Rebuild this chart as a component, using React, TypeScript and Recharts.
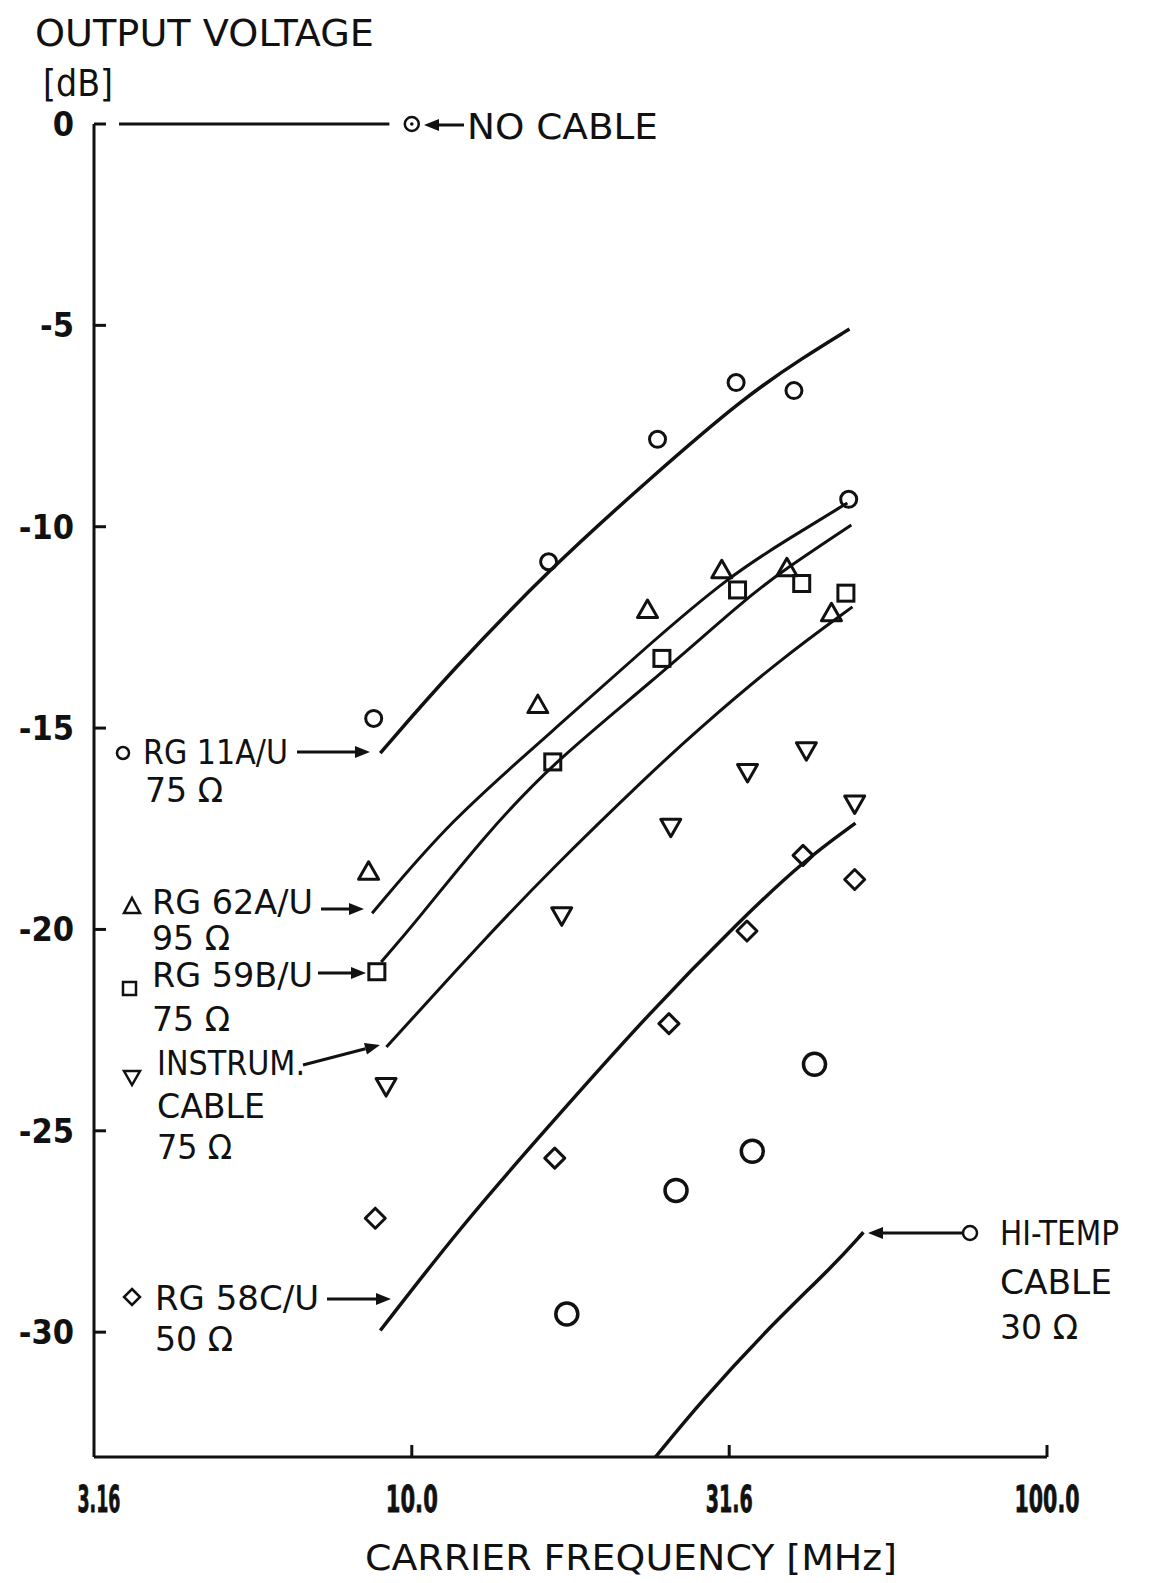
import React from "react";
import { ComposedChart, Line, Scatter, XAxis, YAxis } from "recharts";

const INK = "#111";
const FONT = "'DejaVu Sans Condensed', 'Liberation Sans Narrow', 'DejaVu Sans', sans-serif";
const LABEL_FONT = "'DejaVu Sans', 'Liberation Sans', sans-serif";

// axes
const X_TICKS = [3.16, 10, 31.6, 100];
const X_TICK_LABELS = ["3.16", "10.0", "31.6", "100.0"];
const Y_TICKS = [0, -5, -10, -15, -20, -25, -30];

// measured points (MHz, dB)
const rg11Freq = [8.71, 16.42, 24.37, 32.4, 39.96, 48.73];
const rg11Db = [-14.76, -10.87, -7.83, -6.42, -6.62, -9.32];
const rg62Freq = [8.55, 15.79, 23.5, 30.76, 38.95, 45.78];
const rg62Db = [-18.57, -14.43, -12.07, -11.08, -11.03, -12.15];
const rg59Freq = [8.81, 16.67, 24.76, 32.57, 41.1, 48.24];
const rg59Db = [-21.05, -15.84, -13.27, -11.57, -11.41, -11.65];
const instFreq = [9.11, 17.22, 25.57, 33.77, 41.8, 49.8];
const instDb = [-23.89, -19.65, -17.45, -16.09, -15.55, -16.87];
const rg58Freq = [8.76, 16.79, 25.4, 33.7, 41.3, 49.8];
const rg58Db = [-27.17, -25.68, -22.34, -20.04, -18.16, -18.76];
const hiTempFreq = [17.54, 26.06, 34.36, 43.05];
const hiTempDb = [-29.55, -26.48, -25.51, -23.35];
const noCableFreq = [10];
const noCableDb = [0];

// hand-drawn fit curves
const rg11CurveFreq = [8.92, 11.5, 16.52, 23.84, 33.39, 41.5, 48.87];
const rg11CurveDb = [-15.62, -13.61, -11.03, -8.77, -6.78, -5.78, -5.09];
const rg62CurveFreq = [8.66, 11.5, 16.52, 23.75, 31.62, 38.9, 48.5];
const rg62CurveDb = [-19.6, -17.29, -15.13, -12.89, -11.23, -10.33, -9.41];
const rg59CurveFreq = [8.95, 10.2, 12.96, 16.65, 23.75, 33.39, 37.91, 49.2];
const rg59CurveDb = [-20.81, -19.77, -17.71, -15.87, -13.88, -11.82, -11.15, -9.96];
const instCurveFreq = [9.12, 12.96, 16.52, 23.75, 28.16, 37.91, 49.4];
const instCurveDb = [-22.92, -20.27, -18.53, -16.12, -15.05, -13.31, -11.99];
const rg58CurveFreq = [8.92, 11.92, 16.03, 23.84, 32.91, 41.5, 49.94];
const rg58CurveDb = [-29.96, -27.4, -25.07, -22.01, -19.77, -18.28, -17.36];
const hiTempCurveFreq = [24.19, 28.47, 36.29, 46.17, 51.4];
const hiTempCurveDb = [-33.1, -31.74, -29.92, -28.34, -27.52];
const noCableLineFreq = [3.46, 9.22];
const noCableLineDb = [0, 0];

const zip = (f: number[], d: number[]) => f.map((v, i) => ({ f: v, db: d[i] }));

// marker shapes
const ring = (r: number, w = 3) => (p: any) => (
  <circle cx={p.cx} cy={p.cy} r={r} fill="none" stroke={INK} strokeWidth={w} />
);
const dotRing = (p: any) => (
  <g>
    <circle cx={p.cx} cy={p.cy} r={7} fill="none" stroke={INK} strokeWidth={2.5} />
    <circle cx={p.cx} cy={p.cy} r={1.8} fill={INK} />
  </g>
);
const triUp = (s: number, w = 3) => (p: any) => (
  <polygon
    points={`${p.cx},${p.cy - s} ${p.cx + s},${p.cy + s * 0.75} ${p.cx - s},${p.cy + s * 0.75}`}
    fill="none" stroke={INK} strokeWidth={w} strokeLinejoin="round"
  />
);
const triDown = (s: number, w = 3) => (p: any) => (
  <polygon
    points={`${p.cx},${p.cy + s} ${p.cx + s},${p.cy - s * 0.75} ${p.cx - s},${p.cy - s * 0.75}`}
    fill="none" stroke={INK} strokeWidth={w} strokeLinejoin="round"
  />
);
const square = (s: number, w = 3) => (p: any) => (
  <rect x={p.cx - s} y={p.cy - s} width={2 * s} height={2 * s} fill="none" stroke={INK} strokeWidth={w} />
);
const diamond = (s: number, w = 3) => (p: any) => (
  <polygon
    points={`${p.cx},${p.cy - s} ${p.cx + s},${p.cy} ${p.cx},${p.cy + s} ${p.cx - s},${p.cy}`}
    fill="none" stroke={INK} strokeWidth={w} strokeLinejoin="round"
  />
);

const YTick = (props: any) => {
  const { x, y, payload } = props;
  return (
    <g>
      <line x1={x} y1={y} x2={x + 12} y2={y} stroke={INK} strokeWidth={3} />
      <text x={x - 20} y={y} textAnchor="end" dominantBaseline="central" fontSize={34} fontWeight="bold" fontFamily={FONT} fill={INK}>
        {payload.value}
      </text>
    </g>
  );
};

const X_TICK_WIDTHS = [43, 52, 47, 65];

const XTick = (props: any) => {
  const { x, y, payload, index } = props;
  const w = X_TICK_WIDTHS[index];
  const cx = x + (index === 0 ? 5 : 0);
  return (
    <g>
      {index > 0 && <line x1={x} y1={y} x2={x} y2={y - 12} stroke={INK} strokeWidth={3} />}
      <text
        x={cx - w / 2}
        y={y + 42}
        textLength={w}
        lengthAdjust="spacingAndGlyphs"
        dominantBaseline="central"
        fontSize={38}
        fontWeight="bold"
        fontFamily={FONT}
        fill={INK}
        stroke={INK}
        strokeWidth={0.8}
      >
        {X_TICK_LABELS[index] ?? payload.value}
      </text>
    </g>
  );
};

const Arrow = ({ x1, y1, x2, y2 }: { x1: number; y1: number; x2: number; y2: number }) => {
  const a = Math.atan2(y2 - y1, x2 - x1);
  const L = 15;
  const W = 6;
  const bx = x2 - L * Math.cos(a);
  const by = y2 - L * Math.sin(a);
  const px = -Math.sin(a) * W;
  const py = Math.cos(a) * W;
  return (
    <g>
      <line x1={x1} y1={y1} x2={bx} y2={by} stroke={INK} strokeWidth={3} />
      <polygon points={`${x2},${y2} ${bx + px},${by + py} ${bx - px},${by - py}`} fill={INK} />
    </g>
  );
};

const T = ({ x, y, w, children, size = 33 }: any) => (
  <text
    x={x}
    y={y}
    fontSize={size}
    fontFamily={LABEL_FONT}
    fill={INK}
    textLength={w}
    lengthAdjust={w ? "spacingAndGlyphs" : undefined}
  >
    {children}
  </text>
);

function Annotations() {
  return (
    <svg width={1152} height={1583} style={{ position: "absolute", left: 0, top: 0, pointerEvents: "none" }}>
      <T x={35} y={46} size={37} w={339}>OUTPUT VOLTAGE</T>
      <T x={43} y={96} size={38} w={70}>[dB]</T>

      <Arrow x1={464} y1={125} x2={424} y2={125} />
      <T x={467} y={139} size={36} w={191}>NO CABLE</T>

      <circle cx={123} cy={753} r={6} fill="none" stroke={INK} strokeWidth={2.5} />
      <T x={143} y={764} size={34} w={145}>RG 11A/U</T>
      <Arrow x1={297} y1={752} x2={370} y2={752} />
      <T x={145} y={802} size={34} w={78}>75 Ω</T>

      <polygon points="132,898 140,913 124,913" fill="none" stroke={INK} strokeWidth={2.5} />
      <T x={152} y={914} size={34} w={161}>RG 62A/U</T>
      <Arrow x1={321} y1={909} x2={364} y2={909} />
      <T x={152} y={950} size={34} w={78}>95 Ω</T>

      <rect x={123} y={982} width={13} height={13} fill="none" stroke={INK} strokeWidth={2.5} />
      <T x={152} y={987} size={34} w={161}>RG 59B/U</T>
      <Arrow x1={318} y1={973} x2={366} y2={973} />
      <T x={152} y={1031} size={34} w={78}>75 Ω</T>

      <polygon points="124,1071 140,1071 132,1085" fill="none" stroke={INK} strokeWidth={2.5} />
      <T x={157} y={1075} size={34} w={148}>INSTRUM.</T>
      <Arrow x1={303} y1={1065} x2={380} y2={1045} />
      <T x={157} y={1118} size={34} w={108}>CABLE</T>
      <T x={157} y={1159} size={34} w={75}>75 Ω</T>

      <polygon points="132,1289 140,1297 132,1305 124,1297" fill="none" stroke={INK} strokeWidth={2.5} />
      <T x={155} y={1310} size={34} w={164}>RG 58C/U</T>
      <Arrow x1={327} y1={1299} x2={391} y2={1299} />
      <T x={155} y={1351} size={34} w={78}>50 Ω</T>

      <circle cx={970} cy={1233} r={7} fill="none" stroke={INK} strokeWidth={2.5} />
      <Arrow x1={962} y1={1233} x2={868} y2={1233} />
      <T x={1000} y={1245} size={34} w={119}>HI-TEMP</T>
      <T x={1000} y={1294} size={34} w={112}>CABLE</T>
      <T x={1000} y={1339} size={34} w={78}>30 Ω</T>

      <T x={365} y={1570} size={35} w={532}>CARRIER FREQUENCY [MHz]</T>
    </svg>
  );
}

const curve = (f: number[], d: number[], w = 3) => (
  <Line data={zip(f, d)} dataKey="db" type="basis" stroke={INK} strokeWidth={w} dot={false} activeDot={false} isAnimationActive={false} />
);

export default function App() {
  return (
    <div style={{ position: "absolute", left: 0, top: 0, width: 1152, height: 1583, background: "#fff" }}>
      <ComposedChart width={1152} height={1583} margin={{ top: 124, right: 105, bottom: 0, left: 0 }}>
        <XAxis
          dataKey="f"
          type="number"
          scale="log"
          domain={[3.16, 100]}
          ticks={X_TICKS}
          height={126}
          tickSize={0}
          tickMargin={0}
          tick={<XTick />}
          tickLine={false}
          axisLine={{ stroke: INK, strokeWidth: 3 }}
        />
        <YAxis
          dataKey="db"
          type="number"
          domain={[-33.1, 0]}
          ticks={Y_TICKS}
          width={94}
          tickSize={0}
          tickMargin={0}
          tick={<YTick />}
          tickLine={false}
          axisLine={{ stroke: INK, strokeWidth: 3 }}
        />

        {curve(noCableLineFreq, noCableLineDb)}
        {curve(rg11CurveFreq, rg11CurveDb, 3.5)}
        {curve(rg62CurveFreq, rg62CurveDb)}
        {curve(rg59CurveFreq, rg59CurveDb)}
        {curve(instCurveFreq, instCurveDb)}
        {curve(rg58CurveFreq, rg58CurveDb, 3.5)}
        {curve(hiTempCurveFreq, hiTempCurveDb, 3.5)}

        <Scatter data={zip(noCableFreq, noCableDb)} shape={dotRing} isAnimationActive={false} />
        <Scatter data={zip(rg11Freq, rg11Db)} shape={ring(8)} isAnimationActive={false} />
        <Scatter data={zip(rg62Freq, rg62Db)} shape={triUp(10)} isAnimationActive={false} />
        <Scatter data={zip(rg59Freq, rg59Db)} shape={square(8)} isAnimationActive={false} />
        <Scatter data={zip(instFreq, instDb)} shape={triDown(10)} isAnimationActive={false} />
        <Scatter data={zip(rg58Freq, rg58Db)} shape={diamond(10)} isAnimationActive={false} />
        <Scatter data={zip(hiTempFreq, hiTempDb)} shape={ring(11, 3.5)} isAnimationActive={false} />
      </ComposedChart>
      <Annotations />
    </div>
  );
}
